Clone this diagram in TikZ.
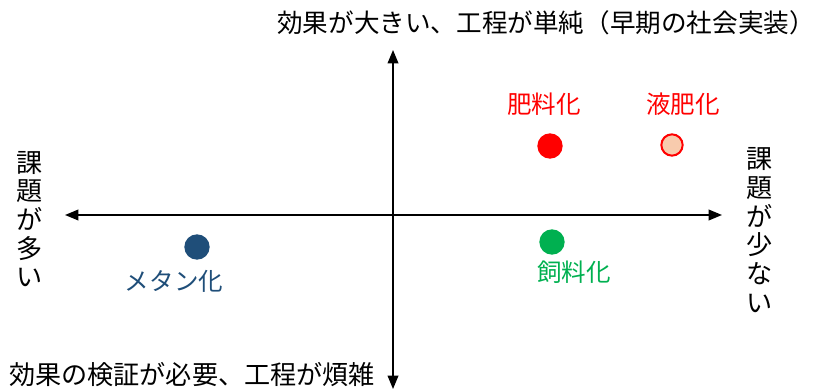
\documentclass[tikz,border=0pt]{standalone}
\usepackage{fontspec}
\newfontfamily\jp{Noto Sans CJK JP}
\usetikzlibrary{arrows.meta}
\definecolor{navy}{HTML}{1F4E79}
\definecolor{grn}{HTML}{00B050}
\definecolor{peach}{HTML}{F8CBAD}
\begin{document}
\begin{tikzpicture}[x=0.75pt,y=-0.75pt,
  txt/.style={font=\jp\fontsize{19.2}{21}\selectfont, inner sep=0pt},
  lbl/.style={font=\jp\fontsize{18.4}{21}\selectfont, inner sep=0pt},
  vtxt/.style={txt, align=center, font=\jp\fontsize{19.6}{21.5}\selectfont},
  axis/.style={line width=1.1pt, -{Triangle[length=10pt,width=8pt]}},
  dot/.style={circle, minimum size=19pt, inner sep=0pt}]
\useasboundingbox (0,0) rectangle (816,391);
\coordinate (o) at (393,215);
\coordinate (L) at (65,215);
\coordinate (R) at (722,215);
\coordinate (T) at (393,50);
\coordinate (B) at (393,389);
\draw[axis] (o) -- (L);
\draw[axis] (o) -- (R);
\draw[axis] (o) -- (T);
\draw[axis] (o) -- (B);
\node[txt] (top) at (546,23) {効果が大きい、工程が単純（早期の社会実装）};
\node[txt, font=\jp\fontsize{19.6}{21}\selectfont] (bot) at (192,375) {効果の検証が必要、工程が煩雑};
\node[vtxt] (lt) at (30,219) {課\\題\\が\\多\\い};
\node[vtxt] (rt) at (760,230) {課\\題\\が\\少\\な\\い};
\node[lbl, text=red] (l1) at (544,104) {肥料化};
\node[lbl, text=red] (l2) at (683,104) {液肥化};
\node[lbl, text=navy] (l3) at (174,281) {メタン化};
\node[lbl, text=grn] (l4) at (574,272) {飼料化};
\node[dot, fill=red] (d1) at (550,146) {};
\node[dot, fill=peach, draw=red, line width=1.5pt, minimum size=16pt] (d2) at (672,145) {};
\node[dot, fill=navy] (d3) at (197,247) {};
\node[dot, fill=grn] (d4) at (552,242) {};
\end{tikzpicture}
\end{document}
